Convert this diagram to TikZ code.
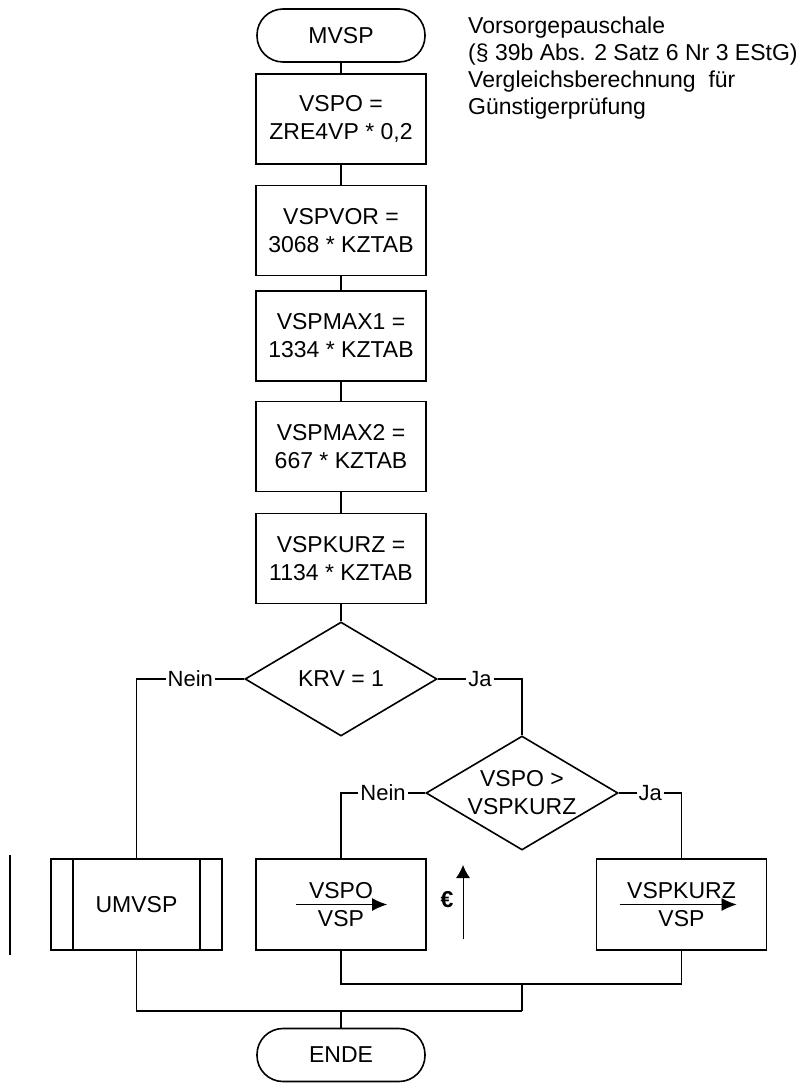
\documentclass[tikz,border=0pt]{standalone}
\usepackage{fontspec}
\setmainfont{Liberation Sans}
\usetikzlibrary{shapes.geometric,arrows.meta}
\tikzset{
  every node/.style={font=\fontsize{23}{28}\selectfont},
  term/.style={draw,line width=1.6pt,rounded corners=26pt,minimum width=168pt,minimum height=53pt},
  proc/.style={draw,line width=1.6pt,align=center,minimum width=170pt,minimum height=90pt},
  decide/.style={draw,line width=1.6pt,diamond,aspect=1.68,inner sep=0pt,align=center,minimum width=192pt,minimum height=114pt},
  lbl/.style={fill=white,inner sep=2pt,font=\fontsize{22}{26}\selectfont},
  flow/.style={line width=1.6pt},
  assign/.style={line width=0.9pt,-{Latex[length=15pt,width=13pt]}}
}
\begin{document}
\begin{tikzpicture}[x=1pt,y=-1pt]
\useasboundingbox (0,0) rectangle (810,1083);
\node[term] (mvsp) at (341,35.5) {MVSP};
\node[anchor=north west,inner sep=0pt,align=left,font=\fontsize{23}{27}\selectfont] (note) at (468,16.5) {Vorsorgepauschale\\(§ 39b Abs. 2 Satz 6 Nr 3 EStG)\\Vergleichsberechnung\ \ für\\Günstigerprüfung};
\node[proc] (vspo) at (341,119) {VSPO =\\ZRE4VP * 0,2};
\node[proc] (vspvor) at (341,230.5) {VSPVOR =\\3068 * KZTAB};
\node[proc] (vspmaxa) at (341,336) {VSPMAX1 =\\1334 * KZTAB};
\node[proc] (vspmaxb) at (341,446.5) {VSPMAX2 =\\667 * KZTAB};
\node[proc] (vspkurz) at (341,558.5) {VSPKURZ =\\1134 * KZTAB};
\node[decide] (krv) at (341,679) {KRV = 1};
\node[decide] (cmp) at (522,793) {VSPO >\\VSPKURZ};
\node[proc,minimum width=171pt,minimum height=91pt] (umvsp) at (136.5,904.5) {UMVSP};
\node[proc,minimum height=91pt] (setvspo) at (341,904.5) {VSPO\\VSP};
\node[proc,minimum height=91pt] (setkurz) at (681.5,904.5) {VSPKURZ\\VSP};
\node[font=\fontsize{23}{28}\selectfont\bfseries] (euro) at (447,900) {€};
\node[term] (ende) at (341,1055) {ENDE};
\coordinate (up0) at (463,939);
\coordinate (up1) at (463,865);
\coordinate (m1) at (522,984);
\coordinate (m2) at (522,1011);
\draw[flow] (mvsp) -- (vspo);
\draw[flow] (vspo) -- (vspvor);
\draw[flow] (vspvor) -- (vspmaxa);
\draw[flow] (vspmaxa) -- (vspmaxb);
\draw[flow] (vspmaxb) -- (vspkurz);
\draw[flow] (vspkurz) -- (krv);
\draw[flow] (krv.west) -| node[lbl,pos=0.25] {Nein} (umvsp.north);
\draw[flow] (krv.east) -| node[lbl,pos=0.25] {Ja} (cmp.north);
\draw[flow] (cmp.west) -| node[lbl,pos=0.25] {Nein} (setvspo.north);
\draw[flow] (cmp.east) -| node[lbl,pos=0.25] {Ja} (setkurz.north);
\draw[flow] ([xshift=23pt]umvsp.north west) -- ([xshift=23pt]umvsp.south west);
\draw[flow] ([xshift=-23pt]umvsp.north east) -- ([xshift=-23pt]umvsp.south east);
\draw[assign] ([xshift=-45pt]setvspo.center) -- ([xshift=46pt]setvspo.center);
\draw[assign] ([xshift=-62pt]setkurz.center) -- ([xshift=55pt]setkurz.center);
\draw[line width=0.9pt,-{Latex[length=13pt,width=14pt]}] (up0) -- (up1);
\draw[flow] (10,855) -- (10,955);
\draw[flow] (setvspo.south) |- (m1) -| (setkurz.south);
\draw[flow] (m1) -- (m2);
\draw[flow] (umvsp.south) |- (m2);
\draw[flow] (ende.north) -- (ende.north |- m2);
\end{tikzpicture}
\end{document}
